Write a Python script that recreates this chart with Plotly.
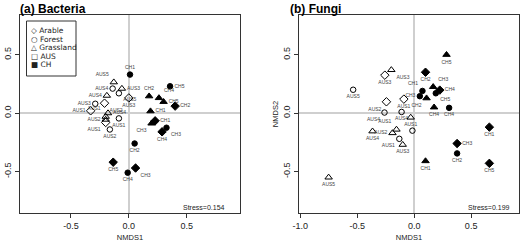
import plotly.graph_objects as go

# ---------------- data: panel (a) Bacteria ----------------
a_names = ["CH1", "AUS5", "AUS4", "AUS3", "AUS4", "AUS5", "AUS3", "AUS3", "AUS2", "AUS1",
           "AUS4", "AUS1", "AUS1", "AUS2", "AUS1", "AUS2",
           "CH2", "CH4", "CH5", "CH5", "CH2", "CH1", "CH1", "CH3", "CH3", "CH4",
           "CH2", "CH5", "CH3", "CH4"]
a_x = [0.01, -0.13, -0.14, -0.06, -0.19, -0.086, 0.0, -0.29, -0.21, -0.33,
       -0.18, -0.086, -0.20, -0.20, -0.20, -0.164,
       0.175, 0.26, 0.30, 0.356, 0.40, 0.187, 0.227, 0.196, 0.325, 0.287,
       0.05, -0.135, 0.058, -0.01]
a_y = [0.33, 0.265, 0.21, 0.21, 0.15, 0.17, 0.13, 0.08, 0.085, 0.02,
       0.0, -0.045, -0.03, -0.055, -0.08, -0.14,
       0.145, 0.13, 0.097, 0.23, 0.06, 0.017, -0.066, -0.088, -0.125, -0.16,
       -0.26, -0.42, -0.47, -0.51]
a_hab = ["Forest", "Grassland", "Forest", "Grassland", "Grassland", "Forest", "Arable", "Forest", "Arable", "Arable",
         "Grassland", "Forest", "Grassland", "Grassland", "Arable", "Forest",
         "Grassland", "Grassland", "Grassland", "Forest", "Arable", "Grassland", "Arable", "Grassland", "Forest", "Arable",
         "Forest", "Arable", "Arable", "Forest"]
a_org = ["CH", "AUS", "AUS", "AUS", "AUS", "AUS", "AUS", "AUS", "AUS", "AUS",
         "AUS", "AUS", "AUS", "AUS", "AUS", "AUS",
         "CH", "CH", "CH", "CH", "CH", "CH", "CH", "CH", "CH", "CH",
         "CH", "CH", "CH", "CH"]
a_pos = ["top center", "top left", "middle left", "middle right", "middle left", "bottom right", "bottom center",
         "middle left", "bottom right", "middle left",
         "middle right", "bottom center", "top left", "middle left", "bottom left", "bottom center",
         "top center", "top right", "middle right", "middle right", "middle right", "middle right", "middle right",
         "bottom left", "bottom right", "bottom center",
         "bottom center", "bottom center", "bottom right", "bottom center"]

# ---------------- data: panel (b) Fungi ----------------
b_names = ["CH5", "CH2", "CH3", "CH4", "CH5", "CH1", "CH3", "CH2", "CH4", "CH4",
           "CH1", "CH3", "CH2", "CH5", "CH1",
           "AUS3", "AUS3", "AUS5", "AUS2", "AUS1", "AUS4", "AUS4", "AUS1", "",
           "AUS1", "AUS2", "AUS4", "AUS1", "AUS3", "AUS5"]
b_x = [0.284, 0.10, 0.167, 0.225, 0.19, 0.073, 0.05, 0.109, 0.175, 0.307,
       0.66, 0.377, 0.377, 0.66, 0.10,
       -0.20, -0.257, -0.535, -0.243, -0.09, -0.26, -0.11, -0.03, -0.015,
       -0.155, -0.19, -0.365, -0.13, -0.10, -0.75]
b_y = [0.50, 0.35, 0.225, 0.197, 0.17, 0.19, 0.145, 0.128, 0.05, 0.045,
       -0.12, -0.26, -0.345, -0.43, -0.41,
       0.37, 0.325, 0.20, 0.097, 0.12, 0.005, 0.01, -0.037, -0.15,
       -0.14, -0.17, -0.155, -0.22, -0.27, -0.55]
b_hab = ["Grassland", "Arable", "Grassland", "Arable", "Forest", "Forest", "Forest", "Grassland", "Grassland", "Forest",
         "Arable", "Arable", "Forest", "Arable", "Grassland",
         "Grassland", "Arable", "Forest", "Arable", "Arable", "Forest", "Forest", "Grassland", "Forest",
         "Grassland", "Grassland", "Grassland", "Forest", "Grassland", "Grassland"]
b_org = ["CH"] * 15 + ["AUS"] * 15
b_pos = ["bottom center", "bottom center", "top right", "middle right", "bottom right", "top left", "middle left",
         "bottom left", "bottom center", "bottom center",
         "bottom center", "middle right", "bottom center", "bottom center", "bottom center",
         "bottom right", "bottom center", "bottom center", "bottom left", "bottom center", "bottom left",
         "bottom center", "bottom center", "bottom center",
         "top left", "middle left", "bottom center", "bottom left", "bottom center", "bottom center"]

legend_labels = ["Arable", "Forest", "Grassland", "AUS", "CH"]
legend_glyphs = ["\u25c7", "\u25cb", "\u25b3", "\u25a1", "\u25a0"]
stress_a = "Stress=0.154"
stress_b = "Stress=0.199"

symbol = {"Arable": "diamond", "Forest": "circle", "Grassland": "triangle-up"}
msize = {"Arable": 6.5, "Forest": 5.5, "Grassland": 6.5}

fig = go.Figure()


def add_panel(names, xs, ys, habs, orgs, poss, xa, ya):
    for hab in ["Arable", "Forest", "Grassland"]:
        for org in ["AUS", "CH"]:
            idx = [i for i in range(len(names)) if habs[i] == hab and orgs[i] == org]
            if not idx:
                continue
            sym = symbol[hab] + ("-open" if org == "AUS" else "")
            fig.add_trace(go.Scatter(
                x=[xs[i] for i in idx], y=[ys[i] for i in idx],
                text=[names[i] for i in idx],
                textposition=[poss[i] for i in idx],
                mode="markers+text",
                marker=dict(symbol=sym, size=msize[hab], color="black",
                            line=dict(color="black", width=1)),
                textfont=dict(family="Liberation Sans", size=5, color="#444444"),
                xaxis=xa, yaxis=ya, showlegend=False, cliponaxis=False))


add_panel(a_names, a_x, a_y, a_hab, a_org, a_pos, "x", "y")
add_panel(b_names, b_x, b_y, b_hab, b_org, b_pos, "x2", "y2")

axis_common = dict(showline=True, mirror=True, linecolor="#333", linewidth=1,
                   ticks="outside", ticklen=4, tickcolor="#333", showgrid=False,
                   zeroline=True, zerolinecolor="#cfcfcf", zerolinewidth=1.5,
                   automargin=False,
                   tickfont=dict(family="Liberation Sans", size=9, color="#222"))

ydom = [1 - 213 / 250, 1 - 15 / 250]
fig.update_layout(
    width=520, height=250, margin=dict(l=0, r=0, t=0, b=0),
    paper_bgcolor="white", plot_bgcolor="white", showlegend=False,
    xaxis=dict(domain=[20 / 520, 240 / 520], range=[-0.94, 0.96],
               tickvals=[-0.5, 0, 0.5], ticktext=["-0.5", "0.0", "0.5"],
               title=dict(text="NMDS1", font=dict(family="Liberation Sans", size=7.5, color="#222"), standoff=4),
               anchor="y", **axis_common),
    yaxis=dict(domain=ydom, range=[-0.855, 0.84],
               tickvals=[-0.5, 0, 0.5], ticktext=["-0.5", "0.0", "0.5"], tickangle=-90,
               anchor="x", **axis_common),
    xaxis2=dict(domain=[299 / 520, 519 / 520], range=[-1.01, 0.92],
                tickvals=[-1.0, -0.5, 0, 0.5], ticktext=["-1.0", "-0.5", "0.0", "0.5"],
                title=dict(text="NMDS1", font=dict(family="Liberation Sans", size=7.5, color="#222"), standoff=4),
                anchor="y2", **axis_common),
    yaxis2=dict(domain=ydom, range=[-0.855, 0.84],
                tickvals=[-0.5, 0, 0.5], ticktext=["-0.5", "0.0", "0.5"], tickangle=-90,
                title=dict(text="NMDS2", font=dict(family="Liberation Sans", size=7.5, color="#222"), standoff=2),
                anchor="x2", **axis_common),
)

annots = [
    dict(text="<b>(a) Bacteria</b>", x=18 / 520, y=1.0, xref="paper", yref="paper",
         xanchor="left", yanchor="top", showarrow=False,
         font=dict(family="Liberation Sans", size=12, color="black")),
    dict(text="<b>(b) Fungi</b>", x=288 / 520, y=1.0, xref="paper", yref="paper",
         xanchor="left", yanchor="top", showarrow=False,
         font=dict(family="Liberation Sans", size=12, color="black")),
    dict(text=stress_a, x=227 / 520, y=1 - 207 / 250, xref="paper", yref="paper",
         xanchor="right", yanchor="middle", showarrow=False,
         font=dict(family="Liberation Sans", size=7, color="#222")),
    dict(text=stress_b, x=512 / 520, y=1 - 207 / 250, xref="paper", yref="paper",
         xanchor="right", yanchor="middle", showarrow=False,
         font=dict(family="Liberation Sans", size=7, color="#222")),
]
leg_y = [30.7, 39.0, 47.7, 56.3, 64.3]
for g, lab, yy in zip(legend_glyphs, legend_labels, leg_y):
    annots.append(dict(text=g + " " + lab, x=29 / 520, y=1 - yy / 250, xref="paper", yref="paper",
                       xanchor="left", yanchor="middle", showarrow=False,
                       font=dict(family="DejaVu Sans", size=7.5, color="#222")))
fig.update_layout(annotations=annots)
fig.add_shape(type="rect", xref="paper", yref="paper", x0=26.5 / 520, x1=76 / 520,
              y0=1 - 76 / 250, y1=1 - 21 / 250, line=dict(color="#333", width=1), fillcolor="white",
              layer="below")

fig.write_html("out.html", config={"displayModeBar": False},
               post_script="document.body.style.margin='0px';document.body.style.padding='0px';")
